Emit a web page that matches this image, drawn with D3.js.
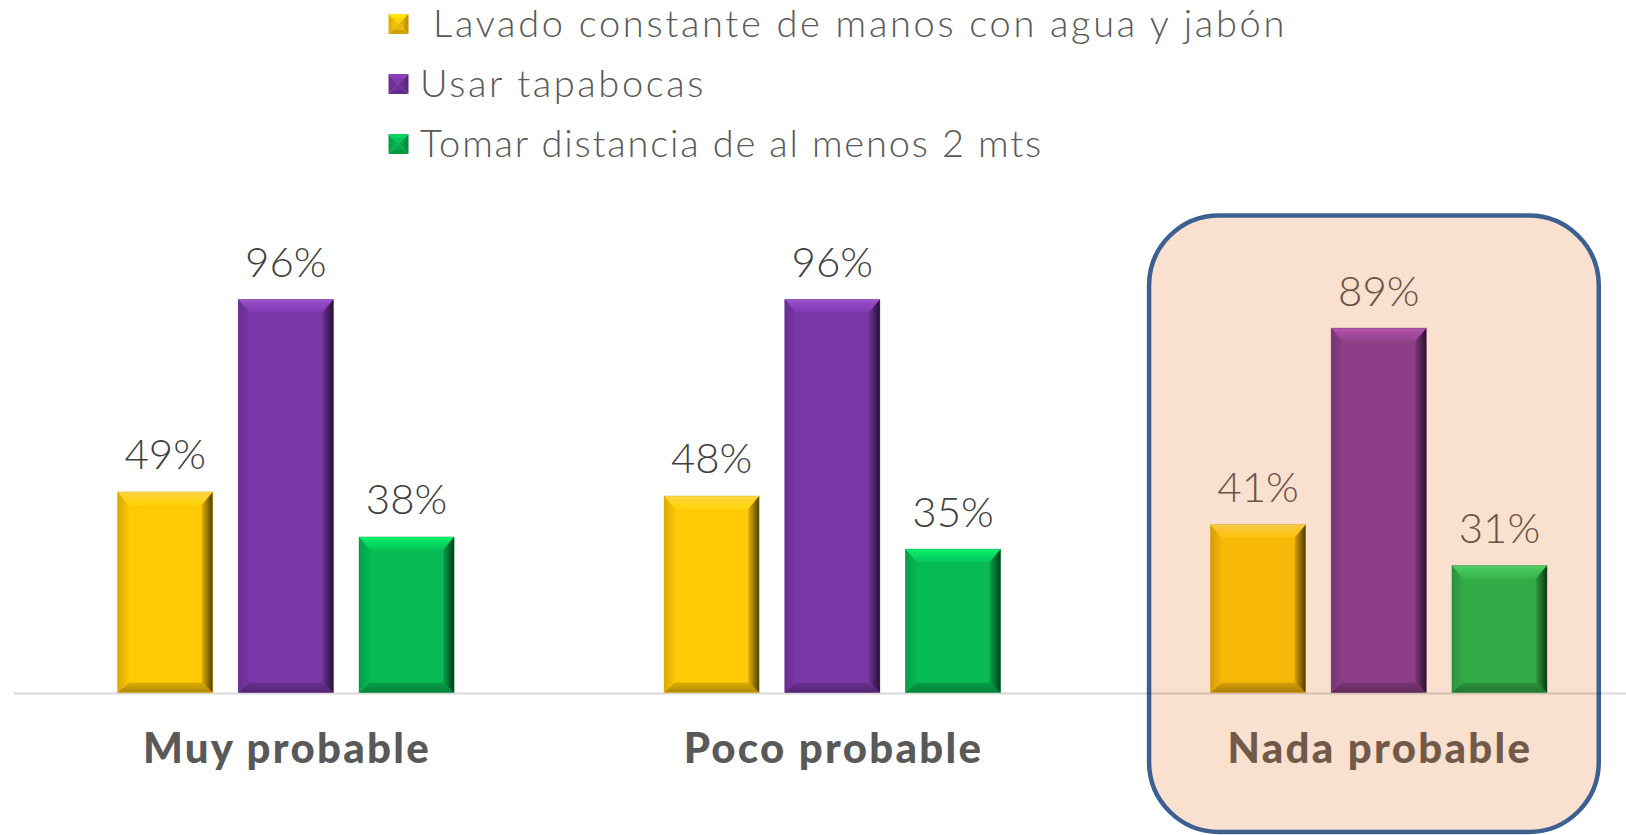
<!DOCTYPE html>
<html lang="es">
<head>
<meta charset="utf-8">
<title>Medidas de prevención según probabilidad</title>
<script src="https://cdn.jsdelivr.net/npm/d3@7"></script>
<style>
  html, body { margin: 0; padding: 0; background: #ffffff; }
  svg { display: block; }
  text { font-family: "Lato", "Open Sans", sans-serif; }
  .legend text { white-space: pre; }
</style>
</head>
<body>
<svg id="chart" width="1626" height="835"></svg>
<script>
// ---- data ----
const categories = ["Muy probable", "Poco probable", "Nada probable"];
const seriesNames = [" Lavado constante de manos con agua y jabón", "Usar tapabocas", "Tomar distancia de al menos 2 mts"];
const lavado    = [0.49, 0.48, 0.41];
const tapabocas = [0.96, 0.96, 0.89];
const distancia = [0.38, 0.35, 0.31];
const seriesValues = [lavado, tapabocas, distancia];
const seriesColors    = ["#FFC905", "#7A37A8", "#06BA54"];
const highlightColors = ["#F8B808", "#8C3E87", "#33AC48"];
const highlightCategory = "Nada probable";

// ---- layout ----
const W = 1626, H = 835;
const svg = d3.select("#chart");
const defs = svg.append("defs");

const x0 = d3.scaleBand().domain(categories).range([12.6, 1652]).padding(0);
const x1 = d3.scaleBand().domain(d3.range(seriesNames.length)).range([105, 441.5]).paddingInner(0.212);
const y = d3.scaleLinear().domain([0, 1]).range([692.5, 283.1]);
const pct = d3.format(".0%");

// bevel gradients, one set per fill colour
function gradId(color, side) { return "g" + color.replace("#", "") + side; }
function addGradient(color, side) {
  const c = d3.color(color);
  const hsl = d3.hsl(color);
  const light = d3.hsl(hsl.h, Math.min(1, hsl.s), Math.min(0.85, hsl.l + 0.14)).formatHex();
  const stops = {
    top:    { x2: 0, y2: 1, s: [[0, light], [0.25, d3.hsl(hsl.h, hsl.s, Math.min(0.8, hsl.l + 0.09)).formatHex()], [1, c.brighter(0.15).formatHex()]] },
    left:   { x2: 1, y2: 0, s: [[0, c.darker(0.45).formatHex()], [1, c.darker(0.05).formatHex()]] },
    right:  { x2: 1, y2: 0, s: [[0, c.darker(0.35).formatHex()], [0.6, c.darker(1.7).formatHex()], [1, c.darker(3.4).formatHex()]] },
    bottom: { x2: 0, y2: 1, s: [[0, c.darker(0.4).formatHex()], [1, c.darker(1.1).formatHex()]] }
  }[side];
  const g = defs.append("linearGradient").attr("id", gradId(color, side))
    .attr("x1", 0).attr("y1", 0).attr("x2", stops.x2).attr("y2", stops.y2);
  stops.s.forEach(([o, col]) => g.append("stop").attr("offset", o).attr("stop-color", col));
}
[...seriesColors, ...highlightColors].forEach(col =>
  ["top", "left", "right", "bottom"].forEach(side => addGradient(col, side)));

// ---- highlight panel behind the last category ----
const hx = x0(highlightCategory) + x0.bandwidth() / 2;
svg.append("rect")
  .attr("x", hx - 229.7).attr("y", 215.5)
  .attr("width", 449.7).attr("height", 616.5)
  .attr("rx", 70).attr("ry", 70)
  .attr("fill", "#F9E0CF")
  .attr("stroke", "#3C6190").attr("stroke-width", 4.5);

// ---- baseline ----
svg.append("line")
  .attr("x1", 14).attr("x2", W)
  .attr("y1", y(0) + 1).attr("y2", y(0) + 1)
  .attr("stroke", "rgba(0,0,0,0.15)").attr("stroke-width", 2);

// ---- bars ----
const bars = [];
categories.forEach((cat, ci) => {
  seriesValues.forEach((vals, si) => {
    const hl = cat === highlightCategory;
    bars.push({ cat, si, value: vals[ci], hl, color: hl ? highlightColors[si] : seriesColors[si] });
  });
});

const bevelX = 11, bevelTop = 13, bevelBot = 10;
const barG = svg.append("g").selectAll("g").data(bars).join("g")
  .attr("transform", d => `translate(${x0(d.cat) + x1(d.si)},${y(d.value)})`);

barG.each(function (d) {
  const g = d3.select(this);
  const w = x1.bandwidth(), h = y(0) - y(d.value);
  g.append("rect").attr("width", w).attr("height", h).attr("fill", d.color);
  const faces = {
    top:    [[0, 0], [w, 0], [w - bevelX, bevelTop], [bevelX, bevelTop]],
    bottom: [[0, h], [w, h], [w - bevelX, h - bevelBot], [bevelX, h - bevelBot]],
    left:   [[0, 0], [bevelX, bevelTop], [bevelX, h - bevelBot], [0, h]],
    right:  [[w, 0], [w - bevelX, bevelTop], [w - bevelX, h - bevelBot], [w, h]]
  };
  Object.entries(faces).forEach(([side, pts]) => {
    g.append("polygon").attr("points", pts.map(p => p.join(",")).join(" "))
      .attr("fill", `url(#${gradId(d.color, side)})`);
  });
  g.append("rect").attr("width", w).attr("height", h).attr("fill", "none")
    .attr("stroke", d3.color(d.color).darker(0.6)).attr("stroke-opacity", 0.35).attr("stroke-width", 1);
});

// value labels
svg.append("g").selectAll("text").data(bars).join("text")
  .attr("x", d => x0(d.cat) + x1(d.si) + x1.bandwidth() / 2)
  .attr("y", d => y(d.value) - 22.5)
  .attr("text-anchor", "middle")
  .attr("font-size", 42)
  .attr("font-weight", 300)
  .attr("fill", d => d.hl ? "#6B5344" : "#404040")
  .text(d => pct(d.value));

// category labels
const catText = svg.append("g").selectAll("text").data(categories).join("text")
  .attr("x", d => x0(d) + x0.bandwidth() / 2)
  .attr("y", 763)
  .attr("text-anchor", "middle")
  .attr("font-size", 42)
  .attr("font-weight", 900)
  .attr("fill", d => d === highlightCategory ? "#725A4A" : "#595959")
  .text(d => d);
{
  const node = catText.nodes()[0];
  const n = node.textContent.length;
  const ls = (288 - node.getComputedTextLength()) / n;
  catText.attr("letter-spacing", ls).attr("dx", ls / 2);
}

// ---- legend ----
const legend = svg.append("g").attr("class", "legend");
const legendRows = legend.selectAll("g").data(seriesNames).join("g")
  .attr("transform", (d, i) => `translate(388.5,${14 + i * 60})`);

const mk = 20;
legendRows.each(function (d, i) {
  const g = d3.select(this);
  const c = d3.color(seriesColors[i]);
  const cx = mk / 2, cy = mk / 2;
  const tri = [
    { pts: [[0, 0], [mk, 0], [cx, cy]], fill: c.brighter(0.35) },
    { pts: [[0, 0], [cx, cy], [0, mk]], fill: c.darker(0.35) },
    { pts: [[mk, 0], [mk, mk], [cx, cy]], fill: c.darker(0.8) },
    { pts: [[0, mk], [mk, mk], [cx, cy]], fill: c.darker(0.6) }
  ];
  tri.forEach(t => g.append("polygon").attr("points", t.pts.map(p => p.join(",")).join(" ")).attr("fill", t.fill));
  g.append("rect").attr("x", 4).attr("y", 4).attr("width", mk - 8).attr("height", mk - 8).attr("fill", c).attr("opacity", 0.55);
});

// each legend entry is spread to its line width
const legendWidths = [867, 286, 623];
legendRows.append("text")
  .attr("x", 31.5).attr("y", 23)
  .attr("font-size", 38)
  .attr("font-weight", 300)
  .attr("fill", "#595959")
  .text(d => d)
  .each(function (d, i) {
    const ls = (legendWidths[i] - this.getComputedTextLength()) / this.textContent.length;
    d3.select(this).attr("letter-spacing", ls);
  });
</script>
</body>
</html>
